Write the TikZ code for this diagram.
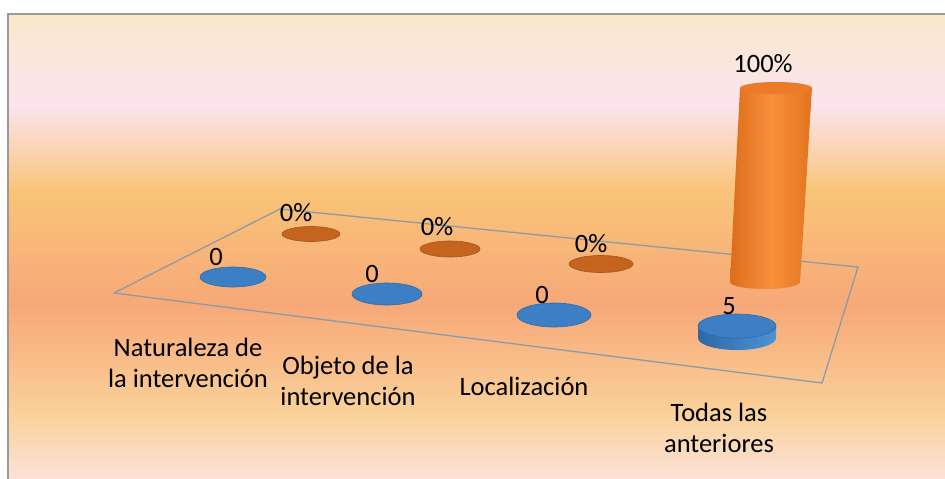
\documentclass[tikz,border=0pt]{standalone}
\usepackage{fontspec}
\setmainfont{Carlito}
\begin{document}
\begin{tikzpicture}[x=1pt,y=-1pt]
\definecolor{bgA}{HTML}{FAE8CC}
\definecolor{bgB}{HTML}{FCE4EE}
\definecolor{bgC}{HTML}{F9C478}
\definecolor{bgD}{HTML}{F7A878}
\definecolor{bgE}{HTML}{FAD29A}
\definecolor{bgF}{HTML}{FCE2DA}
\definecolor{framegray}{HTML}{9A9A9A}
\definecolor{floorgray}{HTML}{8C9BA8}
\definecolor{bluetop}{HTML}{3D7FC4}
\definecolor{blueedge}{HTML}{2F6CAA}
\definecolor{bluesideL}{HTML}{2E68A6}
\definecolor{bluesideR}{HTML}{4C93D6}
\definecolor{orsmall}{HTML}{C5641F}
\definecolor{oredge}{HTML}{A8561E}
\definecolor{cylL}{HTML}{DE6C1A}
\definecolor{cylM}{HTML}{F7903A}
\definecolor{cylR}{HTML}{E4741F}
\definecolor{cyltop}{HTML}{EC7A28}
\tikzset{
  lbl/.style={font=\fontsize{26.5}{31}\selectfont, text=black, inner sep=0pt, align=center, anchor=base},
  floorline/.style={draw=floorgray, line width=1.3pt, line join=round},
  bdisc/.style={fill=bluetop, draw=blueedge, line width=0.6pt},
  odisc/.style={fill=orsmall, draw=oredge, line width=0.6pt},
}
\useasboundingbox (0,0) rectangle (945,479);
\fill[white] (0,0) rectangle (945,479);
% background gradient
\shade[top color=bgA,bottom color=bgB] (8,14) rectangle (945,105.6);
\shade[top color=bgB,bottom color=bgC] (8,105) rectangle (945,190.6);
\shade[top color=bgC,bottom color=bgD] (8,190) rectangle (945,305.6);
\shade[top color=bgD,bottom color=bgE] (8,305) rectangle (945,415.6);
\shade[top color=bgE,bottom color=bgF] (8,415) rectangle (945,479);
\draw[framegray, line width=1.5pt] (8,479) -- (8,14) -- (945,14);
% floor
\draw[floorline] (114,293) -- (280,209) -- (858,267) -- (822,383) -- cycle;
% back row (orange)
\path[odisc] (311,234) ellipse [x radius=29, y radius=7.5];
\path[odisc] (450,249) ellipse [x radius=30, y radius=8];
\path[odisc] (601,264) ellipse [x radius=32, y radius=8.5];
% cylinder
\shade[left color=cylL, right color=cylR, middle color=cylM]
  (740,88) -- (730,282) arc[start angle=180, end angle=0, x radius=35, y radius=7] -- (812,88) -- cycle;
\fill[cyltop] (776,88) ellipse [x radius=36, y radius=6];
% front row (blue)
\path[bdisc] (233,277) ellipse [x radius=33, y radius=10];
\path[bdisc] (387,294) ellipse [x radius=35, y radius=11];
\path[bdisc] (554,315) ellipse [x radius=37, y radius=12];
\shade[left color=bluesideL, right color=bluesideR]
  (698,326) -- (698,338) arc[start angle=180, end angle=0, x radius=39, y radius=12] -- (776,326) -- cycle;
\path[bdisc] (737,326) ellipse [x radius=39, y radius=12];
% value labels
\node[lbl] (p1) at (296,221) {0\%};
\node[lbl] (p2) at (437,235) {0\%};
\node[lbl] (p3) at (591,252) {0\%};
\node[lbl] (p4) at (763,72) {100\%};
\node[lbl] (n1) at (216,265) {0};
\node[lbl] (n2) at (372,282) {0};
\node[lbl] (n3) at (542,303) {0};
\node[lbl] (n4) at (729,314) {5};
% category labels (base anchor = last line baseline)
\node[lbl] (c1) at (188,387) {Naturaleza de\\la intervención};
\node[lbl] (c2) at (348,405) {Objeto de la\\intervención};
\node[lbl] (c3) at (524,395) {Localización};
\node[lbl] (c4) at (719,452) {Todas las\\anteriores};
\end{tikzpicture}
\end{document}
